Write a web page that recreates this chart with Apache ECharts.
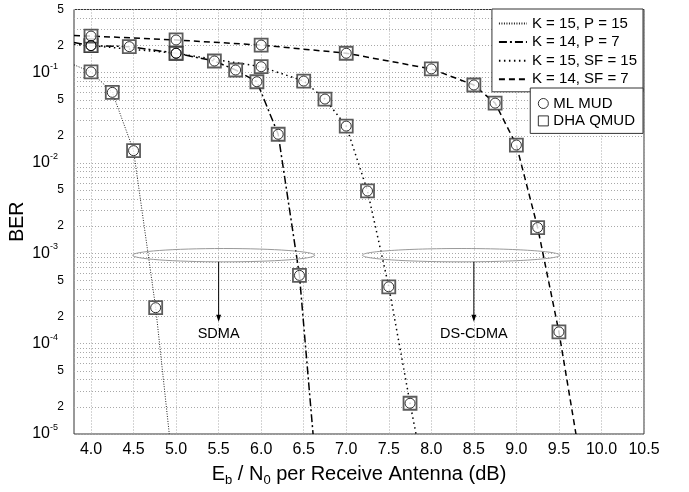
<!DOCTYPE html>
<html>
<head>
<meta charset="utf-8">
<script src="https://cdn.jsdelivr.net/npm/echarts@6/dist/echarts.min.js"></script>
<style>
  html, body { margin: 0; padding: 0; background: #fff; }
  #main { width: 689px; height: 492px; }
</style>
</head>
<body>
<div id="main"></div>
<script>
var FONT = '"Liberation Sans", Arial, Helvetica, sans-serif';

// x axis: Eb/N0 per receive antenna (dB)
var snrMin = 3.8, snrMax = 10.5;
var snrTicks = [4.0, 4.5, 5.0, 5.5, 6.0, 6.5, 7.0, 7.5, 8.0, 8.5, 9.0, 9.5, 10.0, 10.5];

// y axis: BER, log scale
var berMin = 1e-5, berMax = 0.5;
var berDecades = [-5, -4, -3, -2, -1];
var berLabelSteps = [1, 2, 5];
var berGridSteps = [1, 2, 3, 4, 5, 6, 7, 8, 9];

// K = 15, P = 15 (SDMA)
var snrP15 = [4.0, 4.25, 4.5, 4.76];
var berP15 = [0.102, 0.0605, 0.0137, 2.5e-4];
var edgeP15 = [[3.8, 0.122], [4.92, 1e-5]];

// K = 14, P = 7 (SDMA)
var snrP7 = [4.0, 4.45, 5.0, 5.45, 5.7, 5.95, 6.2, 6.45];
var berP7 = [0.199, 0.194, 0.164, 0.1345, 0.107, 0.0793, 0.0208, 5.7e-4];
var edgeP7 = [[3.8, 0.215], [6.61, 1e-5]];

// K = 15, SF = 15 (DS-CDMA)
var snrSF15 = [4.0, 5.0, 6.0, 6.5, 6.75, 7.0, 7.25, 7.5, 7.75];
var berSF15 = [0.199, 0.164, 0.1163, 0.0807, 0.051, 0.0256, 4.9e-3, 4.26e-4, 2.19e-5];
var edgeSF15 = [[3.8, 0.205], [7.82, 1e-5]];

// K = 14, SF = 7 (DS-CDMA)
var snrSF7 = [4.0, 5.0, 6.0, 7.0, 8.0, 8.5, 8.75, 9.0, 9.25, 9.5];
var berSF7 = [0.254, 0.23, 0.202, 0.164, 0.11, 0.073, 0.046, 0.0158, 1.93e-3, 1.35e-4];
var edgeSF7 = [[3.8, 0.257], [9.7, 1e-5]];

// annotation groups (ellipse round the curves at ~1e-3, arrow to label)
var groupNames = ['SDMA', 'DS-CDMA'];
var groupSpan = [[4.49, 6.63], [7.19, 9.51]];
var groupArrowX = [5.5, 8.5];
var ellipseBer = [1.13e-3, 8.05e-4];
var arrowTipBer = 1.75e-4;
var labelBer = 1.27e-4;

function curve(snr, ber, edge) {
  var pts = [edge[0]];
  for (var i = 0; i < snr.length; i++) pts.push([snr[i], ber[i]]);
  pts.push(edge[1]);
  return pts;
}
function points(snr, ber) {
  var pts = [];
  for (var i = 0; i < snr.length; i++) pts.push([snr[i], ber[i]]);
  return pts;
}
var markerPts = points(snrP15, berP15)
  .concat(points(snrP7, berP7))
  .concat(points(snrSF15, berSF15))
  .concat(points(snrSF7, berSF7));

// log-space positions for the grid / labels of the overlay axis
var berGridLog = [], berLabelLog = [];
berDecades.forEach(function (e) {
  berGridSteps.forEach(function (m) {
    if (m * Math.pow(10, e) <= berMax + 1e-12) berGridLog.push(Math.log10(m) + e);
  });
  berLabelSteps.forEach(function (m) {
    if (m * Math.pow(10, e) <= berMax + 1e-12) berLabelLog.push(Math.log10(m) + e);
  });
});

var myChart = echarts.init(document.getElementById('main'));

var dotted = { color: '#a8a8a8', width: 1, type: [1, 2] };

var option = {
  animation: false,
  backgroundColor: '#fff',
  textStyle: { fontFamily: FONT },
  grid: {
    left: 74, right: 45, top: 9.5, bottom: 58,
    outerBoundsMode: 'none',
    show: true, borderColor: '#333', borderWidth: 1, backgroundColor: '#fff'
  },
  legend: [
    {
      data: ['K = 15, P = 15', 'K = 14, P = 7', 'K = 15, SF = 15', 'K = 14, SF = 7'],
      orient: 'vertical',
      right: 46, top: 9,
      padding: [7, 6, 5, 6],
      itemWidth: 28, itemHeight: 14, itemGap: 3.6,
      backgroundColor: '#fff', borderColor: '#333', borderWidth: 1,
      itemStyle: { opacity: 0 },
      textStyle: { fontFamily: FONT, fontSize: 15, color: '#000' }
    },
    {
      data: ['ML MUD', 'DHA QMUD'],
      orient: 'vertical',
      right: 46, top: 88,
      padding: [8, 8, 5, 7.6],
      itemWidth: 10, itemHeight: 10, itemGap: 2.4,
      backgroundColor: '#fff', borderColor: '#333', borderWidth: 1,
      itemStyle: { color: '#fff', borderColor: '#000', borderWidth: 1 },
      textStyle: { fontFamily: FONT, fontSize: 15, color: '#000' }
    }
  ],
  xAxis: {
    type: 'value',
    min: snrMin, max: snrMax,
    name: 'E{sub|b} / N{sub|0} per Receive Antenna (dB)',
    nameLocation: 'middle',
    nameGap: 26,
    nameTextStyle: {
      fontFamily: FONT, fontSize: 20, color: '#000', lineHeight: 24,
      rich: { sub: { fontFamily: FONT, fontSize: 13, lineHeight: 12, verticalAlign: 'bottom', color: '#000' } }
    },
    axisLine: { show: false },
    axisTick: { show: false, customValues: snrTicks },
    axisLabel: {
      customValues: snrTicks, margin: 8,
      fontFamily: FONT, fontSize: 16, color: '#000',
      formatter: function (v) { return v.toFixed(1); }
    },
    splitLine: { show: true, lineStyle: dotted }
  },
  yAxis: [
    {
      type: 'log', logBase: 10,
      min: berMin, max: berMax,
      show: false
    },
    {
      type: 'value',
      position: 'left',
      min: -5, max: Math.log10(5) - 1,
      name: 'BER',
      nameLocation: 'middle',
      nameGap: 46,
      nameMoveOverlap: false,
      nameTextStyle: { fontFamily: FONT, fontSize: 19.5, color: '#000' },
      axisLine: { show: false },
      axisTick: { show: false, customValues: berGridLog },
      axisLabel: {
        customValues: berLabelLog, margin: 10, color: '#000',
        formatter: function (v) {
          var e = Math.floor(v + 1e-9);
          var m = Math.round(Math.pow(10, v - e));
          return m === 1 ? '{b|10}{sup|' + e + '}' : '{s|' + m + '}';
        },
        rich: {
          b: { fontFamily: FONT, fontSize: 16, lineHeight: 22, color: '#000' },
          sup: { fontFamily: FONT, fontSize: 9, lineHeight: 10, verticalAlign: 'top', padding: [0, 6, 0, 0], color: '#000' },
          s: { fontFamily: FONT, fontSize: 12, color: '#000' }
        }
      },
      splitLine: { show: true, lineStyle: dotted }
    }
  ],
  series: [
    {
      name: 'K = 15, P = 15', type: 'line', yAxisIndex: 0,
      data: curve(snrP15, berP15, edgeP15),
      symbol: 'none', z: 2,
      itemStyle: { color: '#000' },
      lineStyle: { color: '#222', width: 1, type: [1, 1.5] }
    },
    {
      name: 'K = 14, P = 7', type: 'line', yAxisIndex: 0,
      data: curve(snrP7, berP7, edgeP7),
      symbol: 'none', z: 2,
      itemStyle: { color: '#000' },
      lineStyle: { color: '#000', width: 1.5, type: [8, 3, 2, 3] }
    },
    {
      name: 'K = 15, SF = 15', type: 'line', yAxisIndex: 0,
      data: curve(snrSF15, berSF15, edgeSF15),
      symbol: 'none', z: 2,
      itemStyle: { color: '#000' },
      lineStyle: { color: '#000', width: 1.5, type: [1.5, 3.5] }
    },
    {
      name: 'K = 14, SF = 7', type: 'line', yAxisIndex: 0,
      data: curve(snrSF7, berSF7, edgeSF7),
      symbol: 'none', z: 2,
      itemStyle: { color: '#000' },
      lineStyle: { color: '#000', width: 1.5, type: [6, 4] }
    },
    {
      name: 'DHA QMUD', type: 'scatter', yAxisIndex: 0,
      data: markerPts,
      symbol: 'rect', symbolSize: 13, z: 3,
      itemStyle: { color: '#fff', borderColor: '#333', borderWidth: 1.8 }
    },
    {
      name: 'ML MUD', type: 'scatter', yAxisIndex: 0,
      data: markerPts,
      symbol: 'circle', symbolSize: 10, z: 4,
      itemStyle: { color: 'rgba(255,255,255,0)', borderColor: '#000', borderWidth: 1 }
    },
    {
      name: 'groups', type: 'custom', yAxisIndex: 0, z: 5,
      data: [[groupArrowX[0], labelBer], [groupArrowX[1], labelBer]],
      renderItem: function (params, api) {
        var i = params.dataIndex;
        var a = api.coord([groupSpan[i][0], ellipseBer[0]]);
        var b = api.coord([groupSpan[i][1], ellipseBer[1]]);
        var start = api.coord([groupArrowX[i], ellipseBer[1]]);
        var tip = api.coord([groupArrowX[i], arrowTipBer]);
        var lab = api.coord([groupArrowX[i], labelBer]);
        return {
          type: 'group',
          children: [
            {
              type: 'ellipse',
              shape: { cx: (a[0] + b[0]) / 2, cy: (a[1] + b[1]) / 2, rx: (b[0] - a[0]) / 2, ry: (b[1] - a[1]) / 2 },
              style: { fill: null, stroke: '#999', lineWidth: 1 }
            },
            {
              type: 'line',
              shape: { x1: start[0], y1: start[1], x2: tip[0], y2: tip[1] - 2 },
              style: { stroke: '#000', lineWidth: 1 }
            },
            {
              type: 'polygon',
              shape: { points: [[tip[0] - 2.5, tip[1] - 7], [tip[0] + 2.5, tip[1] - 7], [tip[0], tip[1]]] },
              style: { fill: '#000' }
            },
            {
              type: 'text',
              x: lab[0], y: lab[1],
              style: { text: groupNames[i], align: 'center', verticalAlign: 'middle', fontSize: 14.5, fontFamily: FONT, fill: '#000' }
            }
          ]
        };
      }
    }
  ]
};

myChart.setOption(option);
</script>
</body>
</html>
